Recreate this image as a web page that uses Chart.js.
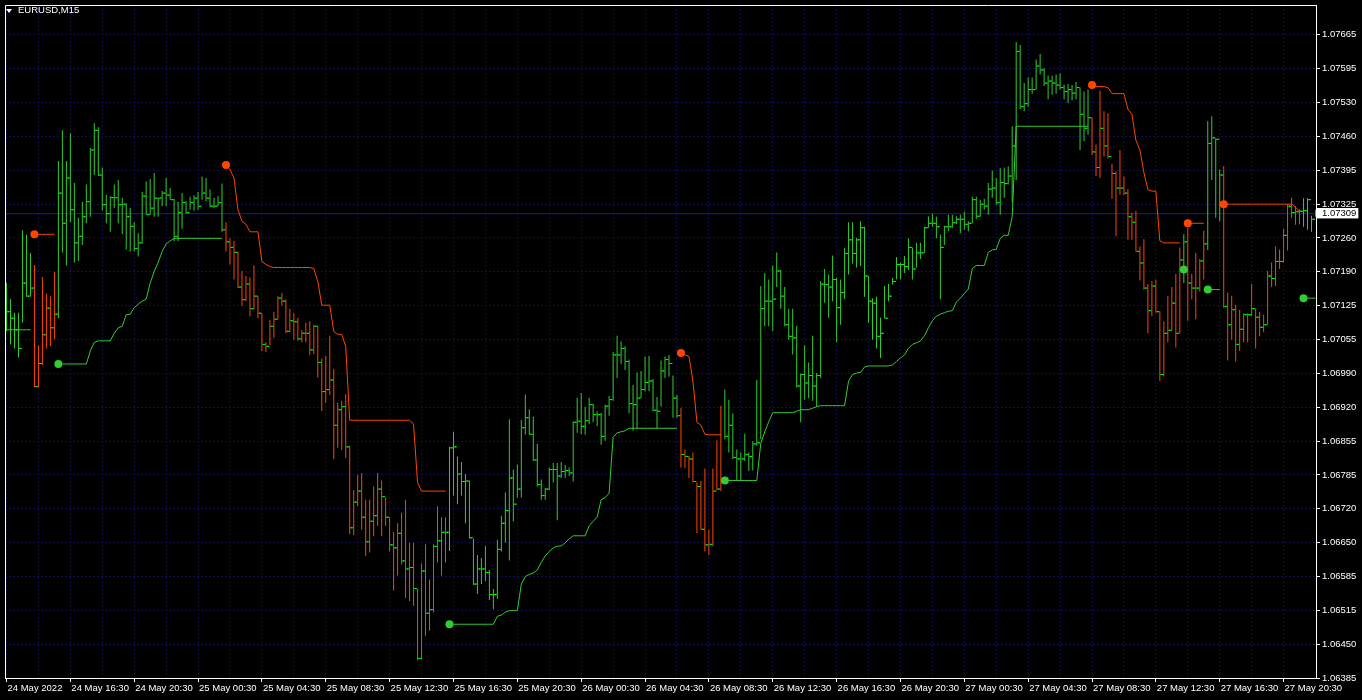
<!DOCTYPE html>
<html>
<head>
<meta charset="utf-8">
<script src="https://cdn.jsdelivr.net/npm/chart.js@4.4.1/dist/chart.umd.min.js"></script>
<style>
  html, body { margin: 0; padding: 0; background: #000; }
  #wrap { position: relative; width: 1362px; height: 700px; background: #000; overflow: hidden; }
  #c { position: absolute; left: 0; top: 0; }
  #title { position: absolute; left: 18px; top: 4px; color: #fff; font: 9.5px 'Liberation Sans', Arial, sans-serif; line-height: 12px; white-space: nowrap; }
  #tri { position: absolute; left: 6px; top: 9px; width: 0; height: 0; border-left: 3.5px solid transparent; border-right: 3.5px solid transparent; border-top: 4px solid #fff; }
</style>
</head>
<body>
<div id="wrap">
  <canvas id="c" width="1362" height="700"></canvas>
  <div id="tri"></div>
  <div id="title">EURUSD,M15</div>
</div>
<script>
// ---------------- DATA (EURUSD M15, 24 May 2022 12:30 -> 27 May 2022 22:30) ----------------
const timeLabels = ['24 May 2022','24 May 16:30','24 May 20:30','25 May 00:30','25 May 04:30','25 May 08:30',
  '25 May 12:30','25 May 16:30','25 May 20:30','26 May 00:30','26 May 04:30','26 May 08:30','26 May 12:30',
  '26 May 16:30','26 May 20:30','27 May 00:30','27 May 04:30','27 May 08:30','27 May 12:30','27 May 16:30','27 May 20:30'];

const yTickValues = [1.06385,1.064524,1.065197,1.065871,1.066545,1.067218,1.067892,1.068566,1.069239,1.069913,
  1.070587,1.071261,1.071934,1.072608,1.073282,1.073955,1.074629,1.075303,1.075976,1.07665];
const yTickLabels = ['1.06385','1.06450','1.06515','1.06585','1.06650','1.06720','1.06785','1.06855','1.06920','1.06990',
  '1.07055','1.07125','1.07190','1.07260','1.07325','1.07395','1.07460','1.07530','1.07595','1.07665'];

const bidPrice = 1.07309;
const bidLabel = '1.07309';

const opens = [
1.07127,1.07114,1.07101,1.07078,1.07041,1.07171,1.07145,1.07161,1.06965,1.07011,1.07068,1.07121,1.07082,1.07109,1.07350,1.07290,
1.07380,1.07317,1.07251,1.07264,1.07303,1.07333,1.07436,1.07475,1.07386,1.07327,1.07309,1.07341,1.07341,1.07327,1.07328,1.07303,
1.07284,1.07240,1.07251,1.07344,1.07307,1.07320,1.07340,1.07340,1.07350,1.07346,1.07337,1.07264,1.07311,1.07331,1.07311,1.07331,
1.07340,1.07324,1.07350,1.07340,1.07324,1.07324,1.07331,1.07277,1.07253,1.07242,1.07232,1.07163,1.07138,1.07169,1.07120,1.07145,
1.07111,1.07049,1.07045,1.07085,1.07099,1.07141,1.07135,1.07075,1.07096,1.07094,1.07060,1.07071,1.07071,1.07038,1.07085,1.07013,
1.06955,1.06959,1.06978,1.06888,1.06919,1.06925,1.06845,1.06684,1.06735,1.06757,1.06705,1.06656,1.06697,1.06708,1.06761,1.06746,
1.06705,1.06650,1.06644,1.06673,1.06618,1.06602,1.06605,1.06563,1.06424,1.06598,1.06514,1.06521,1.06647,1.06658,1.06675,1.06675,
1.06843,1.06845,1.06791,1.06776,1.06777,1.06664,1.06572,1.06602,1.06602,1.06595,1.06551,1.06551,1.06641,1.06693,1.06718,1.06783,
1.06731,1.06761,1.06883,1.06903,1.06870,1.06819,1.06770,1.06748,1.06761,1.06800,1.06800,1.06787,1.06796,1.06798,1.06793,1.06894,
1.06896,1.06886,1.06897,1.06929,1.06909,1.06909,1.06866,1.06926,1.06939,1.07028,1.07028,1.07041,1.07015,1.06931,1.06929,1.06942,
1.06959,1.06973,1.06976,1.06918,1.06916,1.06996,1.07019,1.07011,1.06942,1.06907,1.06830,1.06826,1.06821,1.06776,1.06766,1.06681,
1.06650,1.06651,1.06757,1.06761,1.06774,1.06866,1.06888,1.06824,1.06821,1.06821,1.06830,1.06826,1.06851,1.06853,1.07120,1.07135,
1.07135,1.07139,1.07195,1.07145,1.07088,1.07065,1.07062,1.06966,1.06989,1.06972,1.06987,1.06966,1.06987,1.07169,1.07168,1.07163,
1.07178,1.07122,1.07152,1.07230,1.07257,1.07230,1.07257,1.07281,1.07185,1.07135,1.07131,1.07065,1.07071,1.07101,1.07145,1.07174,
1.07208,1.07208,1.07204,1.07242,1.07199,1.07231,1.07231,1.07281,1.07290,1.07290,1.07283,1.07242,1.07283,1.07283,1.07291,1.07298,
1.07298,1.07288,1.07290,1.07337,1.07304,1.07328,1.07324,1.07358,1.07360,1.07331,1.07371,1.07369,1.07384,1.07444,1.07632,1.07522,
1.07528,1.07556,1.07556,1.07603,1.07595,1.07569,1.07573,1.07569,1.07565,1.07560,1.07552,1.07556,1.07549,1.07560,1.07507,1.07479,
1.07500,1.07432,1.07401,1.07479,1.07444,1.07423,1.07389,1.07360,1.07360,1.07350,1.07303,1.07292,1.07234,1.07211,1.07161,1.07116,
1.07165,1.07114,1.06989,1.07071,1.07077,1.07131,1.07071,1.07217,1.07253,1.07171,1.07161,1.07161,1.07215,1.07249,1.07449,1.07460,
1.07457,1.07386,1.07124,1.07088,1.07118,1.07049,1.07079,1.07108,1.07108,1.07120,1.07103,1.07083,1.07088,1.07185,1.07180,1.07214,
1.07214,1.07266,1.07324,1.07311,1.07313,1.07314,1.07315,1.07337,1.07298];

const highs = [
1.07171,1.07139,1.07112,1.07112,1.07276,1.07267,1.07231,1.07207,1.07047,1.07183,1.07150,1.07145,1.07193,1.07414,1.07475,1.07414,
1.07469,1.07370,1.07301,1.07333,1.07367,1.07440,1.07489,1.07481,1.07401,1.07347,1.07344,1.07367,1.07376,1.07341,1.07330,1.07321,
1.07292,1.07270,1.07352,1.07373,1.07378,1.07390,1.07341,1.07354,1.07380,1.07360,1.07339,1.07333,1.07350,1.07334,1.07343,1.07346,
1.07352,1.07383,1.07380,1.07357,1.07341,1.07344,1.07369,1.07292,1.07260,1.07255,1.07234,1.07195,1.07185,1.07182,1.07206,1.07146,
1.07111,1.07053,1.07098,1.07114,1.07145,1.07151,1.07139,1.07120,1.07111,1.07102,1.07077,1.07092,1.07095,1.07088,1.07086,1.07021,
1.07026,1.07066,1.07000,1.06933,1.06937,1.06950,1.06847,1.06759,1.06789,1.06793,1.06740,1.06740,1.06766,1.06793,1.06778,1.06744,
1.06705,1.06675,1.06693,1.06714,1.06740,1.06654,1.06654,1.06562,1.06613,1.06651,1.06581,1.06651,1.06727,1.06705,1.06705,1.06845,
1.06875,1.06826,1.06815,1.06791,1.06778,1.06662,1.06630,1.06624,1.06647,1.06600,1.06562,1.06660,1.06708,1.06754,1.06900,1.06800,
1.06810,1.06899,1.06949,1.06920,1.06905,1.06851,1.06780,1.06763,1.06804,1.06813,1.06813,1.06815,1.06809,1.06804,1.06896,1.06943,
1.06952,1.06925,1.06943,1.06931,1.06916,1.06913,1.06929,1.06946,1.07034,1.07066,1.07055,1.07045,1.07019,1.06968,1.06993,1.06996,
1.07025,1.07026,1.06980,1.06944,1.07017,1.07025,1.07028,1.06987,1.06948,1.06923,1.06840,1.06827,1.06834,1.06774,1.06777,1.06802,
1.06680,1.06802,1.06858,1.06927,1.06959,1.06939,1.06912,1.06840,1.06834,1.06871,1.06834,1.06856,1.06978,1.07165,1.07191,1.07178,
1.07206,1.07232,1.07197,1.07163,1.07120,1.07120,1.07086,1.06991,1.07047,1.07013,1.07066,1.06992,1.07175,1.07199,1.07188,1.07226,
1.07181,1.07178,1.07241,1.07292,1.07292,1.07261,1.07294,1.07283,1.07185,1.07141,1.07144,1.07102,1.07165,1.07169,1.07181,1.07223,
1.07212,1.07225,1.07260,1.07242,1.07251,1.07251,1.07283,1.07304,1.07309,1.07303,1.07267,1.07285,1.07307,1.07307,1.07304,1.07307,
1.07313,1.07294,1.07343,1.07343,1.07337,1.07339,1.07370,1.07395,1.07380,1.07400,1.07401,1.07403,1.07483,1.07651,1.07645,1.07569,
1.07580,1.07580,1.07616,1.07627,1.07599,1.07584,1.07584,1.07586,1.07588,1.07566,1.07567,1.07565,1.07571,1.07560,1.07552,1.07556,
1.07500,1.07447,1.07554,1.07513,1.07509,1.07408,1.07393,1.07436,1.07383,1.07358,1.07311,1.07315,1.07244,1.07258,1.07169,1.07175,
1.07178,1.07115,1.07095,1.07146,1.07163,1.07189,1.07242,1.07268,1.07281,1.07189,1.07231,1.07219,1.07275,1.07493,1.07503,1.07459,
1.07397,1.07404,1.07152,1.07146,1.07128,1.07118,1.07111,1.07111,1.07169,1.07120,1.07114,1.07108,1.07195,1.07212,1.07244,1.07238,
1.07279,1.07328,1.07341,1.07324,1.07318,1.07340,1.07340,1.07305,1.07317];

const lows = [
1.07075,1.07049,1.07041,1.07023,1.07092,1.07144,1.07144,1.06963,1.06963,1.07008,1.07041,1.07045,1.07059,1.07101,1.07232,1.07206,
1.07292,1.07212,1.07215,1.07247,1.07290,1.07303,1.07386,1.07384,1.07315,1.07290,1.07273,1.07320,1.07290,1.07268,1.07238,1.07234,
1.07234,1.07224,1.07249,1.07307,1.07307,1.07303,1.07303,1.07324,1.07324,1.07337,1.07254,1.07254,1.07279,1.07309,1.07317,1.07315,
1.07317,1.07337,1.07334,1.07322,1.07320,1.07324,1.07273,1.07234,1.07208,1.07178,1.07161,1.07126,1.07135,1.07105,1.07118,1.07101,
1.07036,1.07034,1.07047,1.07062,1.07098,1.07126,1.07071,1.07073,1.07058,1.07056,1.07053,1.07053,1.07028,1.07030,1.06983,1.06916,
1.06933,1.06948,1.06821,1.06843,1.06839,1.06823,1.06671,1.06669,1.06727,1.06680,1.06628,1.06635,1.06667,1.06688,1.06667,1.06688,
1.06637,1.06559,1.06589,1.06611,1.06544,1.06538,1.06529,1.06420,1.06422,1.06469,1.06479,1.06516,1.06615,1.06589,1.06615,1.06638,
1.06748,1.06731,1.06748,1.06693,1.06662,1.06570,1.06552,1.06572,1.06578,1.06540,1.06522,1.06542,1.06637,1.06654,1.06619,1.06697,
1.06744,1.06744,1.06869,1.06869,1.06817,1.06766,1.06740,1.06740,1.06759,1.06774,1.06699,1.06783,1.06783,1.06787,1.06776,1.06873,
1.06870,1.06869,1.06890,1.06894,1.06886,1.06849,1.06857,1.06907,1.06937,1.06982,1.07010,1.06998,1.06912,1.06877,1.06882,1.06942,
1.06955,1.06956,1.06916,1.06882,1.06925,1.06982,1.06985,1.06903,1.06903,1.06804,1.06803,1.06783,1.06774,1.06673,1.06680,1.06637,
1.06630,1.06647,1.06759,1.06757,1.06860,1.06834,1.06821,1.06778,1.06778,1.06817,1.06797,1.06798,1.06847,1.06860,1.07085,1.07085,
1.07075,1.07163,1.07120,1.07085,1.07058,1.07029,1.06963,1.06894,1.06939,1.06942,1.06937,1.06925,1.06982,1.07132,1.07102,1.07135,
1.07053,1.07088,1.07139,1.07188,1.07210,1.07202,1.07205,1.07144,1.07092,1.07058,1.07041,1.07022,1.07101,1.07135,1.07168,1.07178,
1.07178,1.07191,1.07197,1.07178,1.07202,1.07219,1.07231,1.07281,1.07283,1.07260,1.07139,1.07247,1.07274,1.07281,1.07288,1.07270,
1.07277,1.07274,1.07290,1.07298,1.07303,1.07317,1.07307,1.07341,1.07327,1.07307,1.07341,1.07367,1.07331,1.07376,1.07517,1.07513,
1.07522,1.07548,1.07556,1.07586,1.07563,1.07537,1.07546,1.07548,1.07556,1.07537,1.07529,1.07535,1.07537,1.07436,1.07453,1.07466,
1.07426,1.07384,1.07380,1.07423,1.07419,1.07339,1.07264,1.07347,1.07346,1.07257,1.07257,1.07234,1.07176,1.07158,1.07071,1.07105,
1.07112,1.06976,1.06985,1.07053,1.07075,1.07043,1.07071,1.07171,1.07096,1.07139,1.07099,1.07154,1.07178,1.07237,1.07376,1.07301,
1.07294,1.07122,1.07017,1.07058,1.07015,1.07036,1.07053,1.07053,1.07105,1.07041,1.07065,1.07073,1.07088,1.07163,1.07165,1.07199,
1.07212,1.07236,1.07301,1.07287,1.07288,1.07283,1.07277,1.07273,1.07303];

const closes = [
1.07114,1.07101,1.07078,1.07041,1.07171,1.07145,1.07161,1.06965,1.07011,1.07068,1.07121,1.07082,1.07109,1.07350,1.07290,1.07380,
1.07317,1.07251,1.07264,1.07303,1.07333,1.07436,1.07475,1.07386,1.07327,1.07309,1.07341,1.07341,1.07327,1.07328,1.07303,1.07284,
1.07240,1.07251,1.07344,1.07307,1.07320,1.07340,1.07340,1.07350,1.07346,1.07337,1.07264,1.07311,1.07331,1.07311,1.07331,1.07340,
1.07324,1.07350,1.07340,1.07324,1.07324,1.07331,1.07277,1.07253,1.07242,1.07232,1.07163,1.07138,1.07169,1.07120,1.07145,1.07111,
1.07049,1.07045,1.07085,1.07099,1.07141,1.07135,1.07075,1.07096,1.07094,1.07060,1.07071,1.07071,1.07038,1.07085,1.07013,1.06955,
1.06959,1.06978,1.06888,1.06919,1.06925,1.06845,1.06684,1.06735,1.06757,1.06705,1.06656,1.06697,1.06708,1.06761,1.06746,1.06705,
1.06650,1.06644,1.06673,1.06618,1.06602,1.06605,1.06563,1.06424,1.06598,1.06514,1.06521,1.06647,1.06658,1.06675,1.06675,1.06843,
1.06845,1.06791,1.06776,1.06777,1.06664,1.06572,1.06602,1.06602,1.06595,1.06551,1.06551,1.06641,1.06693,1.06718,1.06783,1.06731,
1.06761,1.06883,1.06903,1.06870,1.06819,1.06770,1.06748,1.06761,1.06800,1.06800,1.06787,1.06796,1.06798,1.06793,1.06894,1.06896,
1.06886,1.06897,1.06929,1.06909,1.06909,1.06866,1.06926,1.06939,1.07028,1.07028,1.07041,1.07015,1.06931,1.06929,1.06942,1.06959,
1.06973,1.06976,1.06918,1.06916,1.06996,1.07019,1.07011,1.06942,1.06907,1.06830,1.06826,1.06821,1.06776,1.06766,1.06681,1.06650,
1.06651,1.06757,1.06761,1.06774,1.06866,1.06888,1.06824,1.06821,1.06821,1.06830,1.06826,1.06851,1.06853,1.07120,1.07135,1.07135,
1.07139,1.07195,1.07145,1.07088,1.07065,1.07062,1.06966,1.06989,1.06972,1.06987,1.06966,1.06987,1.07169,1.07168,1.07163,1.07178,
1.07122,1.07152,1.07230,1.07257,1.07230,1.07257,1.07281,1.07185,1.07135,1.07131,1.07065,1.07071,1.07101,1.07145,1.07174,1.07208,
1.07208,1.07204,1.07242,1.07199,1.07231,1.07231,1.07281,1.07290,1.07290,1.07283,1.07242,1.07283,1.07283,1.07291,1.07298,1.07298,
1.07288,1.07290,1.07337,1.07304,1.07328,1.07324,1.07358,1.07360,1.07331,1.07371,1.07369,1.07384,1.07444,1.07632,1.07522,1.07528,
1.07556,1.07556,1.07603,1.07595,1.07569,1.07573,1.07569,1.07565,1.07560,1.07552,1.07556,1.07549,1.07560,1.07507,1.07479,1.07500,
1.07432,1.07401,1.07479,1.07444,1.07423,1.07389,1.07360,1.07360,1.07350,1.07303,1.07292,1.07234,1.07211,1.07161,1.07116,1.07165,
1.07114,1.06989,1.07071,1.07077,1.07131,1.07071,1.07217,1.07253,1.07171,1.07161,1.07161,1.07215,1.07249,1.07449,1.07460,1.07457,
1.07386,1.07124,1.07088,1.07118,1.07049,1.07079,1.07108,1.07108,1.07120,1.07103,1.07083,1.07088,1.07185,1.07180,1.07214,1.07214,
1.07266,1.07324,1.07311,1.07313,1.07314,1.07315,1.07337,1.07298,1.07309];

// trailing-stop indicator: support (up trend) and resistance (down trend) buffers
const upLine = [
1.07078,1.07078,1.07078,1.07078,1.07078,1.07078,1.07078,null,null,null,null,null,null,1.07010,1.07010,1.07010,
1.07010,1.07010,1.07010,1.07010,1.07010,1.07036,1.07053,1.07056,1.07056,1.07056,1.07056,1.07071,1.07082,1.07085,1.07108,1.07109,
1.07122,1.07129,1.07135,1.07139,1.07171,1.07194,1.07212,1.07234,1.07249,1.07255,1.07260,1.07260,1.07260,1.07260,1.07260,1.07260,
1.07260,1.07260,1.07260,1.07260,1.07260,1.07260,1.07260,null,null,null,null,null,null,null,null,null,
null,null,null,null,null,null,null,null,null,null,null,null,null,null,null,null,
null,null,null,null,null,null,null,null,null,null,null,null,null,null,null,null,
null,null,null,null,null,null,null,null,null,null,null,null,null,null,null,1.06492,
1.06492,1.06492,1.06492,1.06492,1.06492,1.06492,1.06492,1.06492,1.06492,1.06492,1.06492,1.06508,1.06510,1.06516,1.06519,1.06519,
1.06519,1.06572,1.06587,1.06591,1.06594,1.06600,1.06615,1.06628,1.06637,1.06644,1.06647,1.06648,1.06654,1.06662,1.06668,1.06668,
1.06668,1.06668,1.06688,1.06697,1.06705,1.06740,1.06744,1.06753,1.06864,1.06873,1.06875,1.06877,1.06882,1.06882,1.06882,1.06882,
1.06882,1.06882,1.06882,1.06882,1.06882,1.06882,1.06882,1.06882,1.06882,null,null,null,null,null,null,null,
null,null,null,null,1.06778,1.06778,1.06778,1.06778,1.06778,1.06778,1.06778,1.06778,1.06778,1.06852,1.06875,1.06895,
1.06913,1.06913,1.06913,1.06913,1.06913,1.06913,1.06916,1.06919,1.06919,1.06919,1.06922,1.06925,1.06927,1.06927,1.06927,1.06927,
1.06927,1.06927,1.06927,1.06976,1.06989,1.06992,1.06993,1.07004,1.07006,1.07006,1.07006,1.07006,1.07006,1.07006,1.07008,1.07015,
1.07022,1.07028,1.07041,1.07049,1.07052,1.07056,1.07066,1.07082,1.07096,1.07105,1.07109,1.07112,1.07115,1.07116,1.07133,1.07141,
1.07150,1.07159,1.07200,1.07206,1.07206,1.07206,1.07232,1.07237,1.07238,1.07260,1.07266,1.07266,1.07303,1.07483,1.07483,1.07483,
1.07483,1.07483,1.07483,1.07483,1.07483,1.07483,1.07483,1.07483,1.07483,1.07483,1.07483,1.07483,1.07483,1.07483,1.07483,1.07483,
null,null,null,null,null,null,null,null,null,null,null,null,null,null,null,null,
null,null,null,null,null,null,null,1.07198,null,null,null,null,null,1.07158,1.07158,1.07158,
1.07158,null,null,null,null,null,null,null,null,null,null,null,null,null,null,null,
null,null,null,null,null,1.07141,1.07141,1.07141,1.07141];

const downLine = [
null,null,null,null,null,null,null,1.07268,1.07268,1.07268,1.07268,1.07268,1.07268,null,null,null,
null,null,null,null,null,null,null,null,null,null,null,null,null,null,null,null,
null,null,null,null,null,null,null,null,null,null,null,null,null,null,null,null,
null,null,null,null,null,null,null,1.07406,1.07397,1.07380,1.07317,1.07294,1.07288,1.07273,1.07273,1.07273,
1.07214,1.07208,1.07204,1.07202,1.07202,1.07202,1.07202,1.07202,1.07202,1.07202,1.07202,1.07202,1.07202,1.07200,1.07174,1.07127,
1.07127,1.07127,1.07075,1.07069,1.07069,1.07045,1.06898,1.06898,1.06898,1.06898,1.06898,1.06898,1.06898,1.06898,1.06898,1.06898,
1.06898,1.06898,1.06898,1.06898,1.06898,1.06898,1.06890,1.06774,1.06757,1.06757,1.06757,1.06757,1.06757,1.06757,1.06757,null,
null,null,null,null,null,null,null,null,null,null,null,null,null,null,null,null,
null,null,null,null,null,null,null,null,null,null,null,null,null,null,null,null,
null,null,null,null,null,null,null,null,null,null,null,null,null,null,null,null,
null,null,null,null,null,null,null,null,null,1.07032,1.07028,1.07025,1.06976,1.06894,1.06888,1.06870,
1.06869,1.06869,1.06869,1.06869,null,null,null,null,null,null,null,null,null,null,null,null,
null,null,null,null,null,null,null,null,null,null,null,null,null,null,null,null,
null,null,null,null,null,null,null,null,null,null,null,null,null,null,null,null,
null,null,null,null,null,null,null,null,null,null,null,null,null,null,null,null,
null,null,null,null,null,null,null,null,null,null,null,null,null,null,null,null,
null,null,null,null,null,null,null,null,null,null,null,null,null,null,null,null,
1.07565,1.07562,1.07562,1.07562,1.07560,1.07548,1.07548,1.07548,1.07548,1.07517,1.07507,1.07455,1.07436,1.07391,1.07357,1.07354,
1.07354,1.07255,1.07251,1.07251,1.07251,1.07251,1.07251,null,1.07290,1.07290,1.07290,1.07290,1.07290,null,null,null,
null,1.07328,1.07328,1.07328,1.07328,1.07328,1.07328,1.07328,1.07328,1.07328,1.07328,1.07328,1.07328,1.07328,1.07328,1.07328,
1.07328,1.07328,1.07328,1.07322,1.07314,null,null,null,null];

const upSignalBars = [13, 111, 180, 295, 301, 325];
const downSignalBars = [7, 55, 169, 272, 296, 305];

// ---------------- STYLE ----------------
const upColor = '#32cd32';
const downColor = '#ff4500';
const ohlcTickColor = '#00ff00';
const gridColor = '#0e0e4e';
const bidLineColor = '#1c1c96';
const FONT = "'Liberation Sans', Arial, sans-serif";

const Y_MIN = 1.06385, Y_MAX = 1.077244;
const X_MIN = -0.375, X_MAX = 328.125;
const GRID_STEP = 8, LABEL_STEP = 16;

const xGridTicks = [];
for (let v = 0; v <= 320; v += GRID_STEP) xGridTicks.push(v);

const barColors = highs.map((h, i) => upLine[i] !== null ? upColor : downColor);

const framePlugin = {
  id: 'frame',
  afterDraw(chart) {
    const { ctx, chartArea: a } = chart;
    ctx.save();
    ctx.strokeStyle = '#ffffff';
    ctx.lineWidth = 1;
    ctx.beginPath();
    ctx.moveTo(a.left + 0.5, a.bottom);
    ctx.lineTo(a.left + 0.5, a.top + 0.5);
    ctx.lineTo(a.right, a.top + 0.5);
    ctx.stroke();
    ctx.restore();
  }
};

const isBid = c => !!(c && c.tick && c.tick.bid);

new Chart(document.getElementById('c').getContext('2d'), {
  type: 'bar',
  data: {
    datasets: [
      { type: 'line', showLine: false, order: 0,
        data: upSignalBars.map(i => ({ x: i, y: upLine[i] })),
        pointRadius: 4, pointBackgroundColor: upColor, pointBorderWidth: 0, pointStyle: 'circle' },
      { type: 'line', showLine: false, order: 0,
        data: downSignalBars.map(i => ({ x: i, y: downLine[i] })),
        pointRadius: 4, pointBackgroundColor: downColor, pointBorderWidth: 0, pointStyle: 'circle' },
      { type: 'line', order: 1, data: upLine.map((v, i) => ({ x: i, y: v })),
        borderColor: upColor, borderWidth: 1, pointRadius: 0, spanGaps: false, tension: 0 },
      { type: 'line', order: 1, data: downLine.map((v, i) => ({ x: i, y: v })),
        borderColor: downColor, borderWidth: 1, pointRadius: 0, spanGaps: false, tension: 0 },
      { type: 'line', showLine: false, order: 2,
        data: opens.map((v, i) => ({ x: i - 0.375, y: v })),
        pointStyle: 'line', pointRadius: 1, pointBorderColor: ohlcTickColor, pointBorderWidth: 1 },
      { type: 'line', showLine: false, order: 2,
        data: closes.map((v, i) => ({ x: i + 0.375, y: v })),
        pointStyle: 'line', pointRadius: 1, pointBorderColor: ohlcTickColor, pointBorderWidth: 1 },
      { type: 'bar', order: 3,
        data: highs.map((h, i) => ({ x: i, y: [lows[i], h] })),
        backgroundColor: barColors, borderWidth: 0, barThickness: 1, maxBarThickness: 1,
        inflateAmount: 0, borderSkipped: false },
      { type: 'line', order: 4,
        data: [{ x: X_MIN, y: bidPrice }, { x: X_MAX, y: bidPrice }],
        borderColor: bidLineColor, borderWidth: 1, pointRadius: 0 }
    ]
  },
  options: {
    responsive: false,
    animation: false,
    devicePixelRatio: 1,
    events: [],
    layout: { padding: { left: 2, top: 2, right: 0, bottom: 0 } },
    plugins: { legend: { display: false }, tooltip: { enabled: false }, title: { display: false } },
    scales: {
      x: {
        type: 'linear', min: X_MIN, max: X_MAX, offset: false,
        afterBuildTicks: s => { s.ticks = xGridTicks.map(v => ({ value: v })); },
        afterFit: s => { s.height = 22; s.paddingLeft = 0; s.paddingRight = 0; },
        ticks: {
          autoSkip: false, maxRotation: 0, minRotation: 0, align: 'start', padding: 1, labelOffset: 1,
          color: '#ffffff', font: { family: FONT, size: 9.5 },
          callback: v => (v % LABEL_STEP === 0 ? timeLabels[v / LABEL_STEP] : '')
        },
        grid: {
          color: gridColor, lineWidth: 1, offset: false, tickLength: 4,
          tickColor: c => (c.tick && c.tick.value % LABEL_STEP === 0) ? '#ffffff' : 'rgba(0,0,0,0)'
        },
        border: { color: '#ffffff', width: 1, dash: [2, 2] }
      },
      y: {
        type: 'linear', position: 'right', min: Y_MIN, max: Y_MAX,
        afterBuildTicks: s => {
          s.ticks = yTickValues.map(v => ({ value: v })).concat([{ value: bidPrice, bid: true }]);
        },
        afterFit: s => { s.width = 46; s.paddingTop = 0; s.paddingBottom = 0; },
        ticks: {
          autoSkip: false, padding: 2,
          font: { family: FONT, size: 9.5 },
          color: c => isBid(c) ? '#000000' : '#ffffff',
          showLabelBackdrop: c => isBid(c),
          backdropColor: '#ffffff',
          backdropPadding: { top: 0, bottom: -1, left: 5, right: 2 },
          callback: (v, i) => (i < yTickLabels.length ? yTickLabels[i] : bidLabel)
        },
        grid: {
          color: c => isBid(c) ? 'rgba(0,0,0,0)' : gridColor,
          tickColor: c => isBid(c) ? 'rgba(0,0,0,0)' : '#ffffff',
          tickLength: 4, lineWidth: 1
        },
        border: { color: '#ffffff', width: 1, dash: [2, 2] }
      }
    }
  },
  plugins: [framePlugin]
});
</script>
</body>
</html>
